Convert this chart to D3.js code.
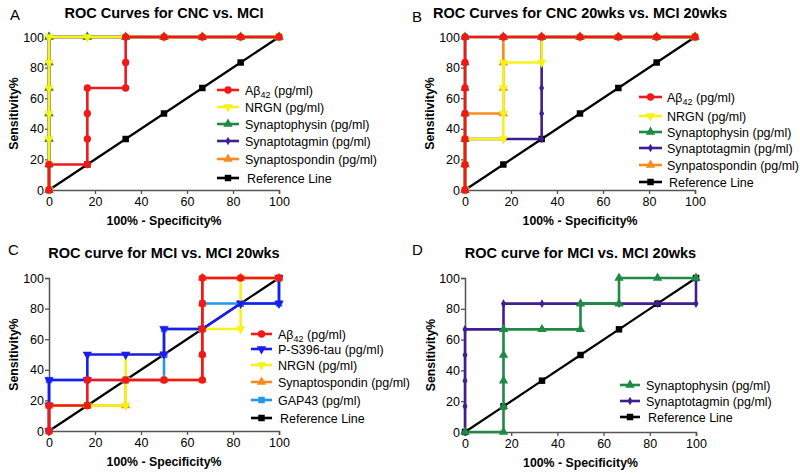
<!DOCTYPE html>
<html><head><meta charset="utf-8">
<script src="https://cdn.jsdelivr.net/npm/d3@7"></script>
<style>body{margin:0;background:#fff}svg{display:block;font-family:"Liberation Sans",Arial,sans-serif}</style>
</head><body><svg id="c" width="800" height="475"></svg>
<script>
// ---------- data ----------
const xTicks = [0, 20, 40, 60, 80, 100];
const yTicks = [0, 20, 40, 60, 80, 100];
const reference = [[0,0],[16.67,16.67],[33.33,33.33],[50,50],[66.67,66.67],[83.33,83.33],[100,100]];

// Panel A: CNC vs. MCI
const A_abeta = [[0,0],[0,16.67],[16.67,16.67],[16.67,33.33],[16.67,50],[16.67,66.67],[33.33,66.67],[33.33,83.33],[33.33,100],[50,100],[66.67,100],[83.33,100],[100,100]];
const A_nrgn = [[0,0],[0,16.67],[0,33.33],[0,50],[0,66.67],[0,83.33],[0,100],[16.67,100],[33.33,100],[50,100],[66.67,100],[83.33,100],[100,100]];
const A_synaptophysin = [[0,0],[0,16.67],[0,33.33],[0,50],[0,66.67],[0,83.33],[0,100],[16.67,100],[33.33,100],[50,100],[66.67,100],[83.33,100],[100,100]];
const A_synaptotagmin = [[0,0],[0,16.67],[0,33.33],[0,50],[0,66.67],[0,83.33],[0,100],[16.67,100],[33.33,100],[50,100],[66.67,100],[83.33,100],[100,100]];
const A_synaptospondin = [[0,0],[0,16.67],[0,33.33],[0,50],[0,66.67],[0,83.33],[0,100],[16.67,100],[33.33,100],[50,100],[66.67,100],[83.33,100],[100,100]];

// Panel B: CNC 20wks vs. MCI 20wks
const B_abeta = [[0,0],[0,16.67],[0,33.33],[0,50],[0,66.67],[0,83.33],[0,100],[16.67,100],[33.33,100],[50,100],[66.67,100],[83.33,100],[100,100]];
const B_nrgn = [[0,0],[0,16.67],[0,33.33],[16.67,33.33],[16.67,50],[16.67,66.67],[16.67,83.33],[33.33,83.33],[33.33,100],[50,100],[66.67,100],[83.33,100],[100,100]];
const B_synaptophysin = [[0,0],[0,16.67],[0,33.33],[0,50],[0,66.67],[0,83.33],[0,100],[16.67,100],[33.33,100],[50,100],[66.67,100],[83.33,100],[100,100]];
const B_synaptotagmin = [[0,0],[0,16.67],[0,33.33],[16.67,33.33],[33.33,33.33],[33.33,50],[33.33,66.67],[33.33,83.33],[33.33,100],[50,100],[66.67,100],[83.33,100],[100,100]];
const B_synpatospondin = [[0,0],[0,16.67],[0,33.33],[0,50],[16.67,50],[16.67,66.67],[16.67,83.33],[16.67,100],[33.33,100],[50,100],[66.67,100],[83.33,100],[100,100]];

// Panel C: MCI vs. MCI 20wks
const C_abeta = [[0,0],[0,16.67],[16.67,16.67],[16.67,33.33],[33.33,33.33],[50,33.33],[66.67,33.33],[66.67,50],[66.67,66.67],[66.67,83.33],[66.67,100],[83.33,100],[100,100]];
const C_ptau = [[0,0],[0,16.67],[0,33.33],[16.67,33.33],[16.67,50],[33.33,50],[50,50],[50,66.67],[66.67,66.67],[83.33,83.33],[100,83.33],[100,100]];
const C_nrgn = [[0,0],[0,16.67],[16.67,16.67],[33.33,16.67],[33.33,33.33],[33.33,50],[50,50],[50,66.67],[66.67,66.67],[83.33,66.67],[83.33,83.33],[83.33,100],[100,100]];
const C_synaptospondin = [[0,0],[0,16.67],[16.67,16.67],[33.33,16.67],[33.33,33.33],[50,33.33],[66.67,33.33],[66.67,50],[66.67,66.67],[66.67,83.33],[66.67,100],[83.33,100],[100,100]];
const C_gap43 = [[0,0],[0,16.67],[0,33.33],[16.67,33.33],[33.33,33.33],[50,33.33],[50,50],[50,66.67],[66.67,66.67],[66.67,83.33],[83.33,83.33],[100,83.33],[100,100]];

// Panel D: MCI vs. MCI 20wks
const D_synaptophysin = [[0,0],[16.67,0],[16.67,16.67],[16.67,33.33],[16.67,50],[16.67,66.67],[33.33,66.67],[50,66.67],[50,83.33],[66.67,83.33],[66.67,100],[83.33,100],[100,100]];
const D_synaptotagmin = [[0,0],[0,16.67],[0,33.33],[0,50],[0,66.67],[16.67,66.67],[16.67,83.33],[33.33,83.33],[50,83.33],[66.67,83.33],[83.33,83.33],[100,83.33],[100,100]];

// ---------- styles ----------
const ST = {
  abeta:   {color:"#f01818", sym:"circle"},
  nrgn:    {color:"#f7f31a", sym:"down"},
  sphys:   {color:"#1f8a45", sym:"up"},
  stag:    {color:"#3f1f8f", sym:"diamond"},
  sspond:  {color:"#fb8a1e", sym:"up"},
  ptau:    {color:"#1c1cf0", sym:"down"},
  gap43:   {color:"#2196f3", sym:"square"},
  ref:     {color:"#000000", sym:"square"}
};

const panels = [
  {letter:"A", lx:10, ly:20, title:"ROC Curves for CNC vs. MCI", ty:18,
   x0:49, x1:279, y0:190, y1:37, ylabX:18,
   leg:{lx1:217, lx2:239, tx:245, ys:[90,107,124,141,159,178]},
   series:[
     {d:A_abeta, s:"abeta", name:"Aβ42"},
     {d:A_nrgn, s:"nrgn", name:"NRGN (pg/ml)"},
     {d:A_synaptophysin, s:"sphys", name:"Synaptophysin (pg/ml)"},
     {d:A_synaptotagmin, s:"stag", name:"Synaptotagmin (pg/ml)"},
     {d:A_synaptospondin, s:"sspond", name:"Synaptospondin (pg/ml)"},
     {d:reference, s:"ref", name:"Reference Line"}]},
  {letter:"B", lx:412, ly:22, title:"ROC Curves for CNC 20wks vs. MCI 20wks", ty:17.5,
   x0:465, x1:695, y0:190, y1:37, ylabX:434,
   leg:{lx1:639, lx2:662, tx:667, ys:[97,116,132,148,165,182]},
   series:[
     {d:B_abeta, s:"abeta", name:"Aβ42"},
     {d:B_nrgn, s:"nrgn", name:"NRGN (pg/ml)"},
     {d:B_synaptophysin, s:"sphys", name:"Synaptophysin (pg/ml)"},
     {d:B_synaptotagmin, s:"stag", name:"Synaptotagmin (pg/ml)"},
     {d:B_synpatospondin, s:"sspond", name:"Synpatospondin (pg/ml)"},
     {d:reference, s:"ref", name:"Reference Line"}]},
  {letter:"C", lx:8, ly:255, title:"ROC curve for MCI vs. MCI 20wks", ty:258,
   x0:49, x1:279, y0:431, y1:278, ylabX:18,
   leg:{lx1:251, lx2:272, tx:278, ys:[334,349,365,382,400,418]},
   series:[
     {d:C_abeta, s:"abeta", name:"Aβ42"},
     {d:C_ptau, s:"ptau", name:"P-S396-tau (pg/ml)"},
     {d:C_nrgn, s:"nrgn", name:"NRGN (pg/ml)"},
     {d:C_synaptospondin, s:"sspond", name:"Synaptospondin (pg/ml)"},
     {d:C_gap43, s:"gap43", name:"GAP43 (pg/ml)"},
     {d:reference, s:"ref", name:"Reference Line"}]},
  {letter:"D", lx:412, ly:255, title:"ROC curve for MCI vs. MCI 20wks", ty:258,
   x0:465, x1:696, y0:432, y1:278, ylabX:435,
   leg:{lx1:620, lx2:640, tx:646, ys:[385,401,417]},
   series:[
     {d:D_synaptophysin, s:"sphys", name:"Synaptophysin (pg/ml)"},
     {d:D_synaptotagmin, s:"stag", name:"Synaptotagmin (pg/ml)"},
     {d:reference, s:"ref", name:"Reference Line"}]}
];

const svg = d3.select("#c");

function symPath(kind){
  switch(kind){
    case "circle": return d3.symbol(d3.symbolCircle, 42)();
    case "square": return d3.symbol(d3.symbolSquare, 42)();
    case "up": return d3.symbol(d3.symbolTriangle, 38)();
    case "down": return d3.symbol(d3.symbolTriangle, 38)();
    case "diamond": return d3.symbol(d3.symbolDiamond, 22)();
  }
}
function drawSym(g, kind, color, x, y){
  return g.append("path").attr("d", symPath(kind)).attr("fill", color)
    .attr("transform", `translate(${x},${y})` + (kind==="down" ? " rotate(180)" : ""));
}

panels.forEach(P => {
  const g = svg.append("g");
  const x = d3.scaleLinear().domain([0,100]).range([P.x0, P.x1]);
  const y = d3.scaleLinear().domain([0,100]).range([P.y0, P.y1]);

  g.append("text").attr("x", P.lx).attr("y", P.ly).attr("font-size", 15).text(P.letter);
  g.append("text").attr("x", (P.x0+P.x1)/2).attr("y", P.ty).attr("text-anchor","middle")
    .attr("font-size", 14.5).attr("font-weight","bold").text(P.title);

  const xa = g.append("g").attr("transform", `translate(0,${P.y0})`)
    .call(d3.axisBottom(x).tickValues(xTicks).tickSize(4).tickPadding(3));
  const ya = g.append("g").attr("transform", `translate(${P.x0},0)`)
    .call(d3.axisLeft(y).tickValues(yTicks).tickSize(4).tickPadding(1));
  [xa, ya].forEach(a => {
    a.selectAll("path").attr("stroke","#555").attr("stroke-width",1.5);
    a.selectAll("line").attr("stroke","#555").attr("stroke-width",1.3);
    a.selectAll("text").attr("font-size", 12.5).attr("fill","#000")
      .attr("font-family",'"Liberation Sans",Arial,sans-serif');
  });

  g.append("text").attr("x", (P.x0+P.x1)/2).attr("y", P.y0+34.5).attr("text-anchor","middle")
    .attr("font-size",12.3).attr("font-weight","bold").text("100% - Specificity%");
  g.append("text").attr("transform", `translate(${P.ylabX},${(P.y0+P.y1)/2}) rotate(-90)`)
    .attr("text-anchor","middle").attr("font-size",12.3).attr("font-weight","bold").text("Sensitivity%");

  const line = d3.line().x(d => x(d[0])).y(d => y(d[1]));
  // first series on top -> draw in reverse order
  P.series.slice().reverse().forEach(S => {
    const st = ST[S.s];
    const sg = g.append("g");
    sg.append("path").datum(S.d).attr("d", line).attr("fill","none")
      .attr("stroke", st.color).attr("stroke-width", S.s==="ref" ? 2.2 : 2.6)
      .attr("stroke-linejoin","miter");
    S.d.forEach(d => drawSym(sg, st.sym, st.color, x(d[0]), y(d[1])));
  });

  // legend
  P.series.forEach((S, i) => {
    const st = ST[S.s];
    const yy = P.leg.ys[i];
    g.append("line").attr("x1", P.leg.lx1).attr("x2", P.leg.lx2).attr("y1", yy).attr("y2", yy)
      .attr("stroke", st.color).attr("stroke-width", 2.6);
    drawSym(g, st.sym, st.color, (P.leg.lx1+P.leg.lx2)/2, yy);
    const t = g.append("text").attr("x", P.leg.tx + (S.s==="ref" ? 2 : 0)).attr("y", yy+4.5).attr("font-size", 12.5);
    if (S.name === "Aβ42") {
      t.append("tspan").text("Aβ");
      t.append("tspan").attr("dy", 3).attr("font-size", 9).text("42");
      t.append("tspan").attr("dy", -3).text(" (pg/ml)");
    } else t.text(S.name);
  });
});
</script></body></html>
